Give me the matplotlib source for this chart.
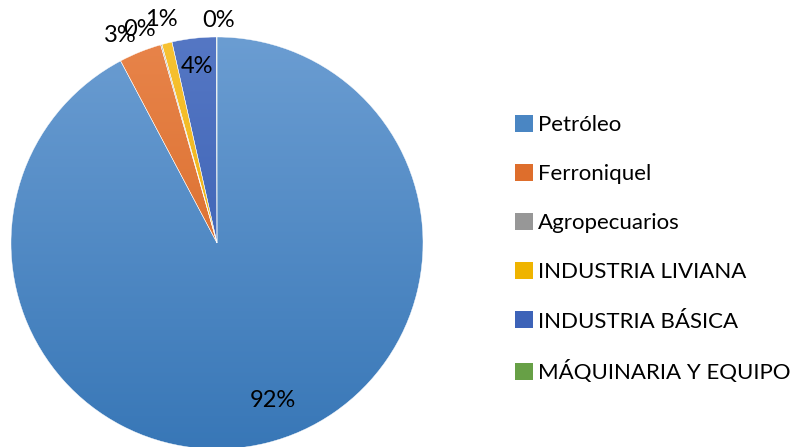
import numpy as np
import matplotlib.pyplot as plt
from matplotlib.colors import LinearSegmentedColormap
from matplotlib.patches import Patch

# Datos (participación por sector, %)
sectores = ['Petróleo', 'Ferroniquel', 'Agropecuarios', 'INDUSTRIA LIVIANA',
            'INDUSTRIA BÁSICA', 'MÁQUINARIA Y EQUIPO']
valores = [92.25, 3.34, 0.10, 0.80, 3.47, 0.04]
etiquetas = ['92%', '3%', '0%', '1%', '4%', '0%']

# colores (claro arriba, oscuro abajo) para imitar el degradado de Excel
col_claro = ['#6b9dd2', '#e8844a', '#a8a8a8', '#f7c233', '#5577c4', '#7cb257']
col_oscuro = ['#3877b7', '#d2621d', '#8a8a8a', '#e7a800', '#2f58ad', '#5a9136']
col_legend = ['#4a86c3', '#de6e2c', '#979797', '#efb400', '#3d63b8', '#67a046']

# posición de las etiquetas: (desfase angular en grados, radio)
pos_etq = [(5.6, 0.81), (3.1, 1.11), (4.2, 1.10), (0.0, 1.12), (0.0, 0.86), (-0.4, 1.08)]

plt.rcParams['font.family'] = ['Lato', 'DejaVu Sans']

W, H = 801, 447
cx, cy, R = 217, 447 - 243, 206
fig = plt.figure(figsize=(W / 100, H / 100), dpi=100)
ax = fig.add_axes([0, 0, 1, 1])

wedges, _ = ax.pie(valores, startangle=90, counterclock=False, radius=1,
                   colors=col_legend, normalize=True,
                   wedgeprops=dict(edgecolor='white', linewidth=0.3))

# degradado vertical dentro de cada porción
grad = np.linspace(1, 0, 256).reshape(-1, 1)
for w, c1, c2 in zip(wedges, col_claro, col_oscuro):
    cmap = LinearSegmentedColormap.from_list('g', [c2, c1])
    im = ax.imshow(grad, cmap=cmap, extent=(-1, 1, -1, 1), aspect='auto',
                   origin='upper', zorder=w.get_zorder() + 0.1, vmin=0, vmax=1)
    im.set_clip_path(w)
    w.set_facecolor('none')
    w.set_zorder(w.get_zorder() + 0.2)

# etiquetas de porcentaje
total = sum(valores)
acum = 0
for v, txt, (da, r) in zip(valores, etiquetas, pos_etq):
    medio = (acum + v / 2) / total * 360
    acum += v
    ang = np.deg2rad(90 - medio + da)
    ax.text(r * np.cos(ang), r * np.sin(ang), txt, ha='center', va='center',
            fontsize=17, color='black', zorder=10)

ax.set_aspect('auto')
ax.set_xlim(-cx / R, (W - cx) / R)
ax.set_ylim(-cy / R, (H - cy) / R)
ax.axis('off')

handles = [Patch(facecolor=c, edgecolor='none') for c in col_legend]
fig.legend(handles, sectores, loc='upper left', bbox_to_anchor=(506 / W, 1 - 106 / H),
           frameon=False, fontsize=16, handlelength=0.8, handleheight=0.8,
           handletextpad=0.25, labelspacing=1.3, borderaxespad=0)

fig.savefig('out.png', dpi=100)
